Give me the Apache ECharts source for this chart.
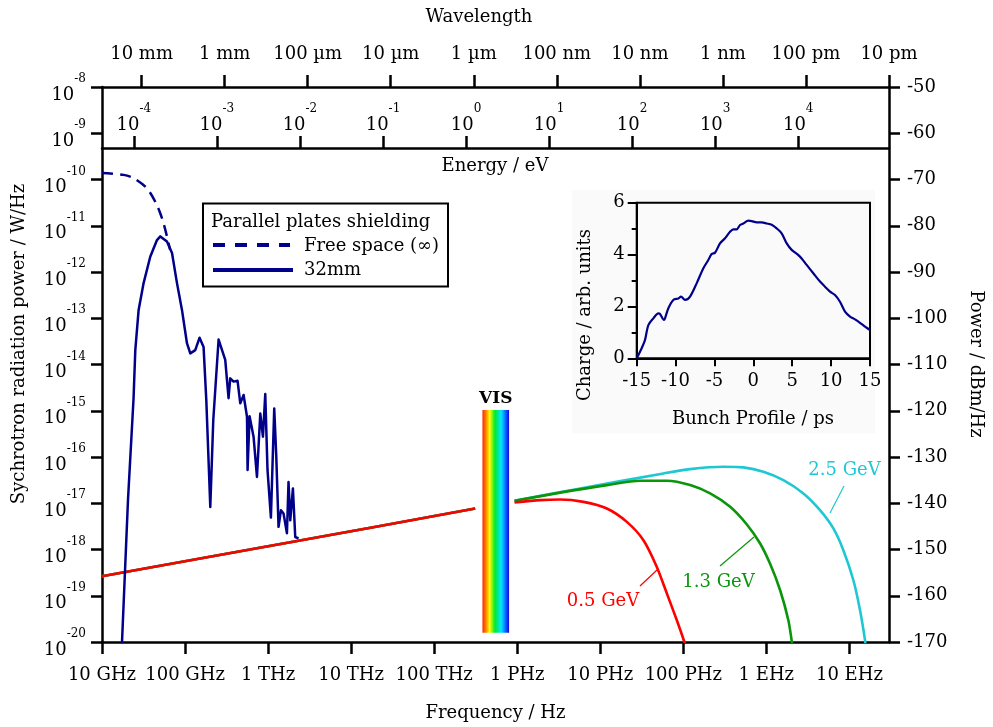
<!DOCTYPE html>
<html><head><meta charset="utf-8">
<script src="https://cdn.jsdelivr.net/npm/echarts@6/dist/echarts.min.js"></script>
<style>html,body{margin:0;padding:0;background:#fff}#c{width:993px;height:727px}</style>
</head><body><div id="c"></div>
<script>
// ---------- data (log10 frequency [Hz], log10 power [W/Hz]) ----------
const freqTickExp = [10,11,12,13,14,15,16,17,18,19];
const freqTickLabels = ['10 GHz','100 GHz','1 THz','10 THz','100 THz','1 PHz','10 PHz','100 PHz','1 EHz','10 EHz'];
const waveTickExp = [-2,-3,-4,-5,-6,-7,-8,-9,-10,-11];
const waveTickLabels = ['10 mm','1 mm','100 µm','10 µm','1 µm','100 nm','10 nm','1 nm','100 pm','10 pm'];
const energyTickExp = [-4,-3,-2,-1,0,1,2,3,4];
const powerTickExp = [-20,-19,-18,-17,-16,-15,-14,-13,-12,-11,-10,-9,-8];

const freeSpace = [[10.0,-9.86],[10.26,-9.90],[10.38,-9.97],[10.54,-10.19],[10.66,-10.55],[10.74,-10.94],[10.82,-11.52]];
const plates32mm = [[10.225,-20.4],[10.241,-20.0],[10.313,-16.93],[10.380,-14.73],[10.401,-13.69],[10.441,-12.82],[10.501,-12.24],
 [10.581,-11.67],[10.662,-11.31],[10.702,-11.23],[10.782,-11.34],[10.843,-11.59],[10.903,-12.24],[10.963,-12.82],
 [11.023,-13.54],[11.063,-13.76],[11.123,-13.69],[11.175,-13.42],[11.223,-13.62],[11.256,-14.77],[11.304,-17.08],
 [11.340,-15.20],[11.404,-13.46],[11.484,-13.90],[11.524,-14.73],[11.544,-14.30],[11.584,-14.37],[11.632,-14.35],
 [11.665,-14.84],[11.705,-14.66],[11.746,-15.13],[11.753,-16.28],[11.777,-15.12],[11.825,-15.56],[11.866,-16.43],
 [11.906,-15.06],[11.938,-15.56],[11.966,-14.64],[11.993,-16.28],[12.034,-17.31],[12.074,-14.95],[12.098,-15.96],
 [12.126,-17.51],[12.155,-17.15],[12.186,-17.22],[12.227,-17.65],[12.246,-16.54],[12.267,-17.37],[12.299,-16.68],
 [12.327,-17.73],[12.367,-17.76]];
const sync05 = [[10.0,-18.578],[12.25,-17.85],[14.494,-17.113],[null,null],[14.967,-16.983],[15.276,-16.932],[15.517,-16.918],
 [15.798,-16.970],[16.079,-17.113],[16.320,-17.403],[16.520,-17.799],[16.681,-18.377],[16.802,-18.952],[16.922,-19.530],
 [17.013,-20.0],[17.034,-20.14]];
const sync13 = [[10.0,-18.578],[12.25,-17.85],[14.494,-17.113],[null,null],[14.967,-16.948],[15.55,-16.76],[16.079,-16.608],
 [16.480,-16.515],[16.802,-16.515],[17.082,-16.608],[17.323,-16.788],[17.564,-17.078],[17.765,-17.46],[17.925,-17.87],
 [18.045,-18.31],[18.166,-18.881],[18.265,-19.530],[18.306,-19.985],[18.316,-20.14]];
const sync25 = [[10.0,-18.578],[12.25,-17.85],[14.494,-17.113],[null,null],[14.967,-16.948],[15.758,-16.68],[16.761,-16.355],
 [17.082,-16.262],[17.483,-16.212],[17.724,-16.225],[17.964,-16.320],[18.205,-16.500],[18.446,-16.788],[18.646,-17.150],
 [18.807,-17.545],[18.927,-18.015],[19.048,-18.665],[19.128,-19.314],[19.188,-19.963],[19.196,-20.14]];
const visBand = [14.581, 14.902, -14.985, -19.80];

// inset: bunch profile (ps, arb. units)
const bunchTime = [-15,-14.36,-13.93,-13.5,-12.86,-12.21,-12.0,-11.49,-11.36,-10.93,-10.29,-9.64,-9.3,-8.79,-8.14,-7.29,-6.43,-5.79,-5.36,-4.93,-4.29,-3.64,-3.0,-2.57,-2.14,-1.71,-1.29,-0.64,-0.21,0.43,1.07,1.71,2.36,3.0,3.64,4.29,4.93,5.79,6.21,6.86,7.71,8.57,9.21,9.86,10.5,11.14,11.79,12.43,13.07,13.71,14.36,15];
const bunchCharge = [0,0.39,0.71,1.28,1.54,1.73,1.71,1.48,1.54,1.93,2.25,2.31,2.38,2.25,2.38,2.89,3.47,3.79,4.02,4.07,4.43,4.63,4.88,4.97,4.97,5.14,5.2,5.31,5.29,5.24,5.24,5.2,5.15,5.01,4.82,4.43,4.18,3.98,3.85,3.6,3.28,2.96,2.76,2.57,2.44,2.18,1.80,1.61,1.50,1.37,1.22,1.09];

// ---------- chart ----------
const FONT = 'DejaVu Serif';
const FS = 18;
const FONTSTR = FS + 'px "' + FONT + '"';
const BLUE = '#00008b', RED = '#ff0000', GREEN = '#0a960a', CYAN = '#1ec8d2';
const C = 2.99792458e8, EV_HZ_LOG = Math.log10(2.417989e14);
const fMin = 10, fMax = Math.log10(C) + 11; // 10 pm at right edge
const supRich = {
  b: {fontFamily: FONT, fontSize: FS, color: '#000', padding: [16,0,0,0]},
  s: {fontFamily: FONT, fontSize: 12, color: '#000', padding: [0,0,16,0]}
};
const axisLine = {show: true, onZero: false, lineStyle: {color: '#000', width: 2.5}};
const lbl = {fontFamily: FONT, fontSize: FS, color: '#000'};
const tick = (len, cv) => ({show: true, length: len, lineStyle: {width: 2.5, color: '#000'}, customValues: cv});

const chart = echarts.init(document.getElementById('c'), null, {renderer: 'canvas'});
const option = {
  animation: false,
  backgroundColor: '#fff',
  grid: [
    {left: 102, top: 87, right: 104, bottom: 85, containLabel: false},
    {left: 636.7, top: 202.7, width: 233.3, height: 155.6, show: true, borderColor: '#000', borderWidth: 2, backgroundColor: 'transparent', z: 5}
  ],
  xAxis: [
    {gridIndex: 0, type: 'value', position: 'bottom', min: fMin, max: fMax,
     axisLine, splitLine: {show: false}, axisTick: tick(12, freqTickExp),
     axisLabel: Object.assign({margin: 24, customValues: freqTickExp,
       formatter: v => freqTickLabels[freqTickExp.indexOf(Math.round(v))]}, lbl)},
    {gridIndex: 0, type: 'value', position: 'top', inverse: true,
     min: Math.log10(C) - fMax, max: Math.log10(C) - fMin,
     axisLine, splitLine: {show: false}, axisTick: tick(12, waveTickExp),
     axisLabel: Object.assign({margin: 24, customValues: waveTickExp,
       formatter: v => waveTickLabels[waveTickExp.indexOf(Math.round(v))]}, lbl)},
    {gridIndex: 0, type: 'value', position: 'top', offset: -61,
     min: fMin - EV_HZ_LOG, max: fMax - EV_HZ_LOG,
     axisLine, splitLine: {show: false}, axisTick: tick(12, energyTickExp),
     axisLabel: {margin: 14, customValues: energyTickExp, rich: supRich,
       formatter: v => '{b|10}{s|' + Math.round(v) + '}'}},
    {gridIndex: 1, type: 'value', min: -15, max: 15, interval: 5,
     axisLine: {show: true, onZero: false, lineStyle: {color: '#000', width: 2}}, splitLine: {show: false},
     axisTick: {show: true, length: 8, lineStyle: {width: 2, color: '#000'}},
     axisLabel: Object.assign({margin: 14}, lbl)}
  ],
  yAxis: [
    {gridIndex: 0, type: 'value', position: 'left', min: -20, max: -8, interval: 1,
     axisLine, splitLine: {show: false},
     axisTick: {show: true, length: 11, lineStyle: {width: 2.5, color: '#000'}},
     axisLabel: {margin: 16, rich: supRich, formatter: v => '{b|10}{s|' + Math.round(v) + '}'}},
    {gridIndex: 0, type: 'value', position: 'right', min: -170, max: -50, interval: 10,
     axisLine, splitLine: {show: false},
     axisTick: {show: true, length: 11, lineStyle: {width: 2.5, color: '#000'}},
     axisLabel: Object.assign({margin: 18}, lbl)},
    {gridIndex: 1, type: 'value', min: 0, max: 6, interval: 2,
     axisLine: {show: true, onZero: false, lineStyle: {color: '#000', width: 2}}, splitLine: {show: false},
     axisTick: {show: true, length: 9, lineStyle: {width: 2, color: '#000'}},
     minorTick: {show: true, splitNumber: 2, length: 5, lineStyle: {width: 2, color: '#000'}},
     axisLabel: Object.assign({margin: 12}, lbl)}
  ],
  series: [
    {type: 'line', name: '2.5 GeV', xAxisIndex: 0, yAxisIndex: 0, data: sync25, showSymbol: false, smooth: 0.25,
     connectNulls: false, lineStyle: {color: CYAN, width: 2.6}, z: 2},
    {type: 'line', name: '1.3 GeV', xAxisIndex: 0, yAxisIndex: 0, data: sync13, showSymbol: false, smooth: 0.25,
     connectNulls: false, lineStyle: {color: GREEN, width: 2.6}, z: 3},
    {type: 'line', name: '0.5 GeV', xAxisIndex: 0, yAxisIndex: 0, data: sync05, showSymbol: false, smooth: 0.25,
     connectNulls: false, lineStyle: {color: RED, width: 2.6}, z: 4,
     markArea: {silent: true, z: 1,
       label: {show: true, position: 'top', distance: 3, formatter: 'VIS', fontFamily: FONT, fontWeight: 'bold', fontSize: 17, color: '#000'},
       itemStyle: {color: {type: 'linear', x: 0, y: 0, x2: 1, y2: 0, colorStops: [
         {offset: 0, color: '#ff2a00'}, {offset: 0.12, color: '#ff7a00'}, {offset: 0.27, color: '#ffff00'},
         {offset: 0.47, color: '#00e830'}, {offset: 0.70, color: '#00e8ff'}, {offset: 0.86, color: '#0070ff'},
         {offset: 1, color: '#1a00e0'}]}},
       data: [[{xAxis: visBand[0], yAxis: visBand[2]}, {xAxis: visBand[1], yAxis: visBand[3]}]]}},
    {type: 'line', name: 'Free space', xAxisIndex: 0, yAxisIndex: 0, data: freeSpace, showSymbol: false, smooth: 0.3,
     lineStyle: {color: BLUE, width: 2.5, type: [11, 7]}, z: 5},
    {type: 'line', name: '32mm', xAxisIndex: 0, yAxisIndex: 0, data: plates32mm, showSymbol: false,
     lineStyle: {color: BLUE, width: 2.5, join: 'round'}, z: 5},
    {type: 'line', name: 'bunch', xAxisIndex: 3, yAxisIndex: 2,
     data: bunchTime.map((t, i) => [t, bunchCharge[i]]), showSymbol: false, smooth: 0.3,
     lineStyle: {color: BLUE, width: 2.2}, z: 6}
  ],
  graphic: [
    {type: 'rect', z: -10, shape: {x: 572, y: 190, width: 303, height: 243}, style: {fill: '#fafafa'}},
    // axis titles
    {type: 'text', z: 100, x: 479, y: 17, style: {text: 'Wavelength', font: FONTSTR, fill: '#000', textAlign: 'center', textVerticalAlign: 'middle'}},
    {type: 'text', z: 100, x: 495, y: 166, style: {text: 'Energy / eV', font: FONTSTR, fill: '#000', textAlign: 'center', textVerticalAlign: 'middle'}},
    {type: 'text', z: 100, x: 495.5, y: 713, style: {text: 'Frequency / Hz', font: FONTSTR, fill: '#000', textAlign: 'center', textVerticalAlign: 'middle'}},
    {type: 'text', z: 100, x: 19, y: 344, rotation: Math.PI / 2, style: {text: 'Sychrotron radiation power / W/Hz', font: FONTSTR, fill: '#000', textAlign: 'center', textVerticalAlign: 'middle'}},
    {type: 'text', z: 100, x: 976, y: 364, rotation: -Math.PI / 2, style: {text: 'Power / dBm/Hz', font: FONTSTR, fill: '#000', textAlign: 'center', textVerticalAlign: 'middle'}},
    {type: 'text', z: 100, x: 585, y: 315, rotation: Math.PI / 2, style: {text: 'Charge / arb. units', font: FONTSTR, fill: '#000', textAlign: 'center', textVerticalAlign: 'middle'}},
    {type: 'text', z: 100, x: 753, y: 419, style: {text: 'Bunch Profile / ps', font: FONTSTR, fill: '#000', textAlign: 'center', textVerticalAlign: 'middle'}},
    // legend
    {type: 'rect', z: 100, shape: {x: 203, y: 203.5, width: 245, height: 83}, style: {fill: '#fff', stroke: '#000', lineWidth: 2}},
    {type: 'text', z: 101, x: 211, y: 222, style: {text: 'Parallel plates shielding', font: FONTSTR, fill: '#000', textAlign: 'left', textVerticalAlign: 'middle'}},
    {type: 'line', z: 101, shape: {x1: 213, y1: 245, x2: 290, y2: 245}, style: {stroke: BLUE, lineWidth: 4, lineDash: [12, 10]}},
    {type: 'text', z: 101, x: 304, y: 246.5, style: {text: 'Free space (∞)', font: FONTSTR, fill: '#000', textAlign: 'left', textVerticalAlign: 'middle'}},
    {type: 'line', z: 101, shape: {x1: 213, y1: 270, x2: 293, y2: 270}, style: {stroke: BLUE, lineWidth: 4}},
    {type: 'text', z: 101, x: 304, y: 270, style: {text: '32mm', font: FONTSTR, fill: '#000', textAlign: 'left', textVerticalAlign: 'middle'}},
    // energy annotations
    {type: 'line', z: 50, shape: {x1: 640, y1: 586, x2: 657, y2: 570}, style: {stroke: RED, lineWidth: 1.2}},
    {type: 'text', z: 50, x: 603, y: 601, style: {text: '0.5 GeV', font: FONTSTR, fill: RED, textAlign: 'center', textVerticalAlign: 'middle'}},
    {type: 'line', z: 50, shape: {x1: 720, y1: 566, x2: 754, y2: 537}, style: {stroke: GREEN, lineWidth: 1.2}},
    {type: 'text', z: 50, x: 718.5, y: 582, style: {text: '1.3 GeV', font: FONTSTR, fill: GREEN, textAlign: 'center', textVerticalAlign: 'middle'}},
    {type: 'line', z: 50, shape: {x1: 844, y1: 486, x2: 830, y2: 513}, style: {stroke: CYAN, lineWidth: 1.2}},
    {type: 'text', z: 50, x: 844.5, y: 470, style: {text: '2.5 GeV', font: FONTSTR, fill: CYAN, textAlign: 'center', textVerticalAlign: 'middle'}}
  ]
};
chart.setOption(option);
</script>
</body></html>
